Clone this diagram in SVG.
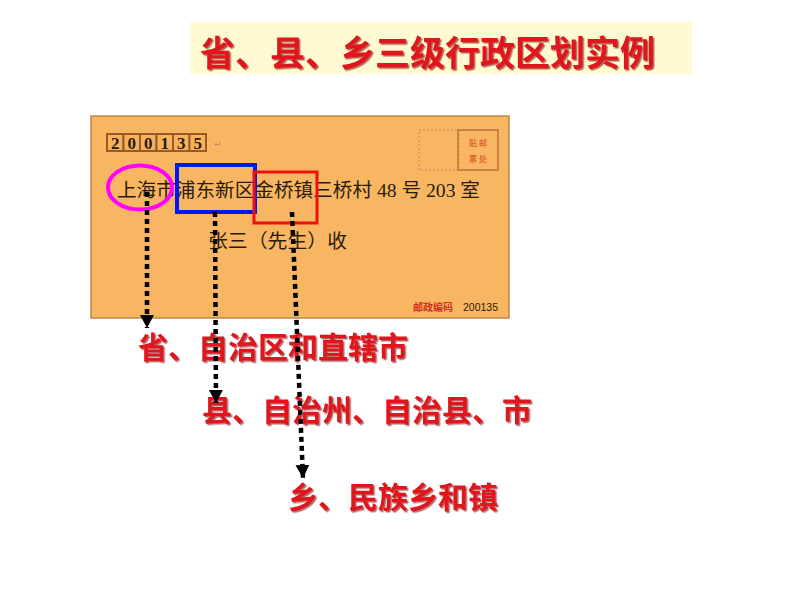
<svg xmlns="http://www.w3.org/2000/svg" width="794" height="596" viewBox="0 0 794 596">
<defs>
<style>
.red{fill:#E0141C;font-family:"Noto Sans CJK SC",sans-serif;font-weight:bold}
.addr{fill:#2a1a0a;font-family:"Liberation Serif","Noto Sans CJK SC",serif;font-size:19px}
.digit{fill:#2a1a0a;font-family:"Liberation Serif",serif;font-size:17px;font-weight:bold;text-anchor:middle}
.box{fill:#F7B25E;stroke:#9A5A28;stroke-width:2}
.dots{stroke:#000;stroke-width:4.5;stroke-dasharray:5 4;fill:none}
</style>
<filter id="sh" x="-5%" y="-10%" width="110%" height="130%">
<feDropShadow dx="1.5" dy="1.5" stdDeviation="0.6" flood-color="#7a0000" flood-opacity="0.6"/>
</filter>
<marker id="ah" markerWidth="14" markerHeight="14" refX="13" refY="7" orient="auto" markerUnits="userSpaceOnUse" viewBox="0 0 14 14">
<path d="M0,0 L13,7 L0,14 Z" fill="#000"/>
</marker>
</defs>
<rect width="794" height="596" fill="#fff"/>

<g id="title">
<rect x="190" y="22" width="502" height="52" fill="#FFFAD2"/>
<text x="200" y="66" class="red" font-size="35" filter="url(#sh)">省、县、乡三级行政区划实例</text>
</g>

<g id="envelope">
<rect x="91" y="116" width="418" height="202" fill="#F8B662" stroke="#C08848" stroke-width="1.5"/>
<g>
<rect class="box" x="107" y="134" width="16.5" height="17"/>
<rect class="box" x="123.5" y="134" width="16.5" height="17"/>
<rect class="box" x="140" y="134" width="16.5" height="17"/>
<rect class="box" x="156.5" y="134" width="16.5" height="17"/>
<rect class="box" x="173" y="134" width="16.5" height="17"/>
<rect class="box" x="189.5" y="134" width="16.5" height="17"/>
<text class="digit" x="115.2" y="148.5">2</text>
<text class="digit" x="131.7" y="148.5">0</text>
<text class="digit" x="148.2" y="148.5">0</text>
<text class="digit" x="164.7" y="148.5">1</text>
<text class="digit" x="181.2" y="148.5">3</text>
<text class="digit" x="197.7" y="148.5">5</text>
<text x="214" y="147" font-family="DejaVu Sans,sans-serif" font-size="9" fill="#b08a6a">↵</text>
</g>
<rect x="419" y="130" width="40" height="40" fill="none" stroke="#C9885A" stroke-width="1" stroke-dasharray="2 2"/>
<rect x="458" y="130" width="40" height="40" fill="none" stroke="#C0703A" stroke-width="1.5"/>
<text x="478" y="146" text-anchor="middle" font-family="Noto Sans CJK SC,sans-serif" font-size="8" fill="#D04020">贴 邮</text>
<text x="478" y="162" text-anchor="middle" font-family="Noto Sans CJK SC,sans-serif" font-size="8" fill="#D04020">票 处</text>
<text class="addr" x="117" y="197" textLength="363" lengthAdjust="spacingAndGlyphs">上海市浦东新区金桥镇三桥村 48 号 203 室</text>
<text class="addr" x="208" y="248" textLength="139" lengthAdjust="spacingAndGlyphs">张三（先生）收</text>
<text x="413" y="311" font-family="Noto Sans CJK SC,sans-serif" font-weight="bold" font-size="10" fill="#D03020">邮政编码</text>
<text x="463" y="311" font-family="Liberation Sans,sans-serif" font-size="10.5" fill="#2a1a0a">200135</text>
</g>

<g id="highlights">
<ellipse cx="140" cy="187.5" rx="32" ry="22" fill="none" stroke="#FF00FF" stroke-width="4"/>
<rect x="177" y="165" width="78" height="47" fill="none" stroke="#0018F0" stroke-width="4"/>
<rect x="254" y="172" width="63" height="51" fill="none" stroke="#F01010" stroke-width="3"/>
</g>

<g id="labels">
<text x="138" y="358" class="red" font-size="30" filter="url(#sh)">省、自治区和直辖市</text>
<text x="202" y="421" class="red" font-size="30" filter="url(#sh)">县、自治州、自治县、市</text>
<text x="288" y="508" class="red" font-size="30" filter="url(#sh)">乡、民族乡和镇</text>
</g>

<g id="connectors">
<line class="dots" x1="147" y1="192" x2="147" y2="328" marker-end="url(#ah)"/>
<line class="dots" x1="215" y1="212" x2="216" y2="403" marker-end="url(#ah)"/>
<line class="dots" x1="292" y1="212" x2="303" y2="478" marker-end="url(#ah)"/>
</g>
</svg>
